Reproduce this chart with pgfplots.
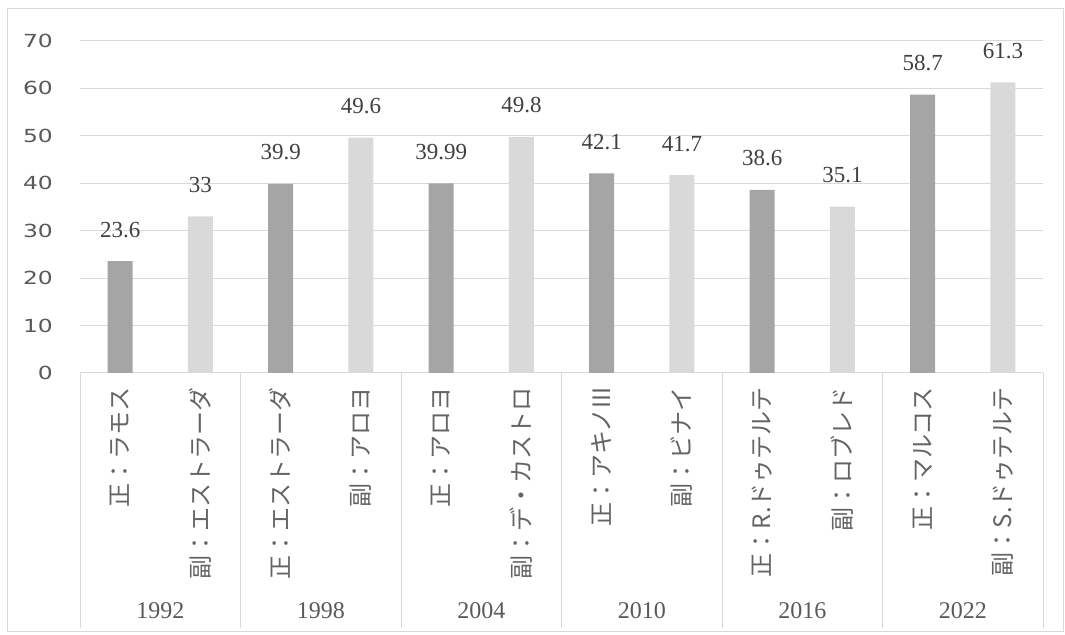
\documentclass[border=0pt]{standalone}
\usepackage{fontspec}
\setmainfont{Liberation Serif}
\newfontfamily\cjk{Noto Sans CJK JP}
\newfontfamily\tickfont{DejaVu Sans}[FakeStretch=1.3]
\usepackage{pgfplots}
\pgfplotsset{compat=1.18}
\definecolor{darkbar}{HTML}{A5A5A5}
\definecolor{lightbar}{HTML}{D9D9D9}
\definecolor{gridc}{HTML}{D9D9D9}
\definecolor{txt}{HTML}{595959}
\definecolor{cjkc}{HTML}{646464}
\definecolor{lbl}{HTML}{404040}
\begin{document}
\begin{tikzpicture}[x=1bp,y=1bp]
\path[use as bounding box] (0,0) rectangle (1065,635);
\draw[gridc, line width=1bp] (7.5,3.5) rectangle (1063.5,626);
\begin{axis}[
  at={(80bp,262bp)}, anchor=south west, scale only axis,
  width=963bp, height=332bp,
  xmin=-0.5, xmax=11.5, ymin=0, ymax=70,
  ytick={0,10,...,70},
  xtick={0,...,11},
  xticklabels={正：ラモス,副：エストラーダ,正：エストラーダ,副：アロヨ,正：アロヨ,副：デ・カストロ,正：アキノIII,副：ビナイ,正：R.ドゥテルテ,副：ロブレド,正：マルコス,副：S.ドゥテルテ},
  minor xtick={-0.5,1.5,...,11.5},
  xtick pos=left, ytick pos=left,
  tick align=outside,
  major tick length=0pt,
  minor tick length=255bp,
  minor tick style={gridc, line width=1bp},
  axis line style={draw=none},
  ymajorgrids, major grid style={gridc, line width=1bp},
  ybar, bar width=25bp, bar shift=0pt,
  /pgf/number format/assume math mode=true,
  yticklabel style={font=\tickfont\fontsize{18bp}{18bp}\selectfont, color=txt, anchor=east, inner sep=0pt, xshift=-27bp},
  xticklabel style={font=\cjk\fontsize{24bp}{24bp}\selectfont, color=cjkc, yshift=-14bp, rotate=90, anchor=east, inner sep=0pt},
  nodes near coords,
  every node near coord/.append style={font=\fontsize{23bp}{23bp}\selectfont, color=lbl, anchor=base, inner sep=0pt, yshift=24bp},
]
\addplot[fill=darkbar, draw=none] coordinates {(0,23.6) (2,39.9) (4,39.99) (6,42.1) (8,38.6) (10,58.7)};
\addplot[fill=lightbar, draw=none] coordinates {(1,33) (3,49.6) (5,49.8) (7,41.7) (9,35.1) (11,61.3)};
\end{axis}
\begin{axis}[
  at={(80bp,262bp)}, anchor=south west, scale only axis,
  width=963bp, height=332bp,
  xmin=-0.5, xmax=11.5, ymin=0, ymax=70,
  ytick=\empty,
  xtick={0.5,2.5,...,10.5},
  xticklabels={1992,1998,2004,2010,2016,2022},
  xtick pos=left, major tick length=0pt,
  axis line style={draw=none},
  xticklabel style={font=\fontsize{24bp}{24bp}\selectfont, color=txt, anchor=center, inner sep=0pt, yshift=-238bp},
]
\addplot[draw=none] coordinates {(0,0)};
\end{axis}
\end{tikzpicture}
\end{document}
